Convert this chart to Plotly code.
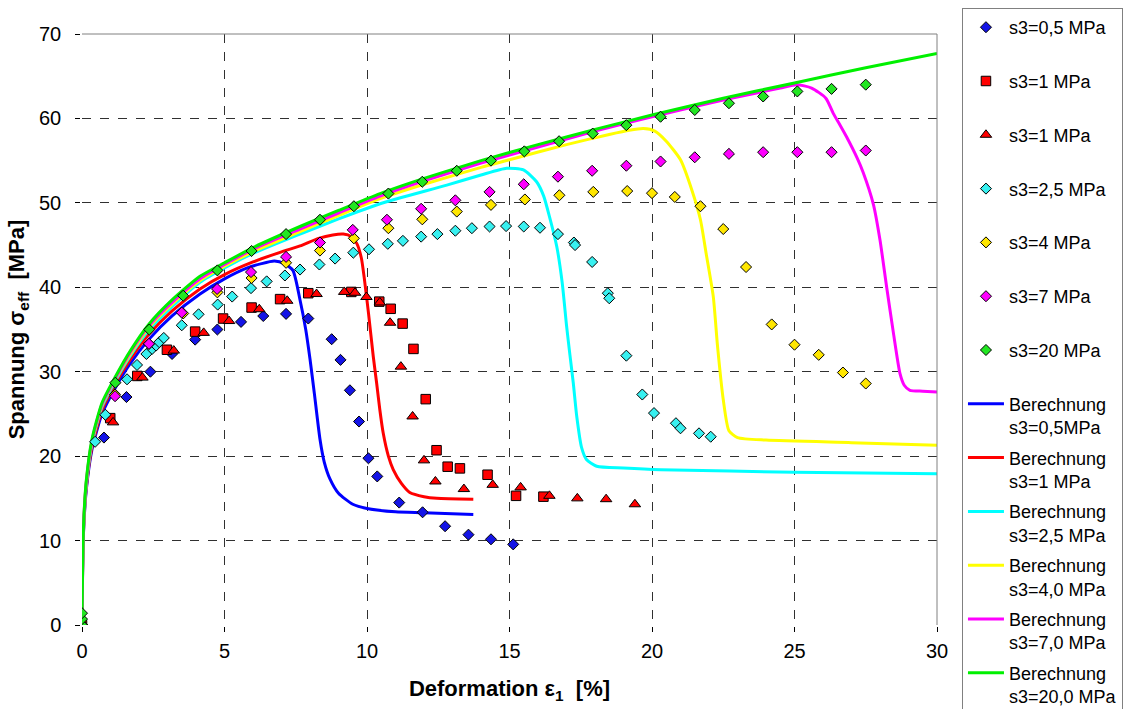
import plotly.graph_objects as go

# ---------------- measured data (markers) ----------------
x_b = [0, 0.77, 1.56, 2.4, 3.16, 3.97, 4.75, 5.58, 6.36, 7.16, 7.94, 8.76, 9.07, 9.4, 9.72,
       10.05, 10.36, 11.13, 11.95, 12.74, 13.56, 14.35, 15.13]
y_b = [0, 22.2, 27.0, 30.0, 32.1, 33.8, 35.0, 35.9, 36.6, 36.85, 36.3, 33.85, 31.4, 27.8, 24.1,
       19.75, 17.6, 14.5, 13.35, 11.7, 10.7, 10.15, 9.55]

x_rs = [0, 0.99, 1.94, 2.98, 3.97, 4.95, 5.95, 6.95, 7.94, 9.45, 10.43, 10.83, 11.25, 11.63,
        12.06, 12.44, 12.83, 13.26, 14.23, 15.23, 16.19]
y_rs = [0, 24.5, 29.5, 32.6, 34.75, 36.3, 37.6, 38.6, 39.3, 39.45, 38.3, 37.45, 35.7, 32.7,
        26.75, 20.7, 18.75, 18.55, 17.8, 15.3, 15.2]

x_rt = [0, 1.09, 2.12, 3.22, 4.27, 5.16, 6.22, 7.2, 8.23, 9.2, 9.58, 9.98, 10.45, 10.81, 11.19,
        11.6, 12.0, 12.4, 13.4, 14.41, 15.39, 16.4, 17.38, 18.39, 19.4]
y_rt = [0, 24.0, 29.3, 32.5, 34.6, 36.0, 37.4, 38.4, 39.2, 39.45, 39.35, 38.85, 38.2, 35.8, 30.6,
        24.7, 19.5, 17.0, 16.1, 16.6, 16.3, 15.3, 15.0, 14.9, 14.3]

x_c = [0, 0.46, 0.82, 1.58, 1.93, 2.26, 2.46, 2.6, 2.71, 2.87, 3.5, 4.09, 4.76, 5.27, 5.93,
       6.48, 7.12, 7.65, 8.33, 8.88, 9.52, 10.07, 10.73, 11.26, 11.9, 12.47, 13.1, 13.68, 14.3,
       14.88, 15.5, 16.07, 16.7, 17.26, 17.3, 17.9, 18.45, 18.5, 19.1, 19.66, 20.07, 20.84, 21.0,
       21.65, 22.06]
y_c = [0, 21.7, 24.9, 29.1, 30.8, 32.1, 32.7, 33.1, 33.5, 34.0, 35.5, 36.8, 37.95, 38.9, 39.9,
       40.7, 41.4, 42.1, 42.7, 43.4, 44.1, 44.5, 45.15, 45.5, 46.0, 46.3, 46.7, 47.0, 47.2,
       47.25, 47.2, 47.05, 46.3, 45.3, 45.0, 43.0, 39.3, 38.7, 31.9, 27.3, 25.1, 23.9, 23.3,
       22.7, 22.3]

x_y = [0, 1.16, 2.35, 3.55, 4.75, 5.95, 7.16, 8.35, 9.54, 10.75, 11.94, 13.15, 14.35, 15.54,
       16.75, 17.94, 19.13, 20.0, 20.8, 21.7, 22.5, 23.3, 24.2, 25.0, 25.85, 26.7, 27.5]
y_y = [0, 27.3, 33.3, 36.9, 39.4, 41.1, 42.9, 44.35, 45.8, 47.0, 48.05, 48.97, 49.76, 50.4,
       50.9, 51.3, 51.4, 51.15, 50.7, 49.6, 46.9, 42.4, 35.6, 33.2, 32.0, 29.9, 28.6]

x_m = [0, 1.16, 2.35, 3.5, 4.74, 5.93, 7.16, 8.35, 9.5, 10.7, 11.9, 13.1, 14.3, 15.5, 16.7,
       17.9, 19.1, 20.3, 21.5, 22.7, 23.9, 25.1, 26.3, 27.5]
y_m = [0, 27.1, 33.3, 37.0, 39.8, 41.8, 43.6, 45.3, 46.8, 48.0, 49.3, 50.3, 51.3, 52.2, 53.1,
       53.8, 54.4, 54.9, 55.4, 55.8, 56.0, 56.0, 56.0, 56.2]

x_g = [0, 0, 0, 1.17, 2.36, 3.55, 4.75, 5.95, 7.16, 8.35, 9.54, 10.75, 11.94, 13.15, 14.35,
       15.52, 16.74, 17.92, 19.1, 20.3, 21.5, 22.7, 23.9, 25.1, 26.3, 27.5]
y_g = [0, 0.7, 1.4, 28.7, 35.0, 39.0, 42.0, 44.3, 46.3, 48.0, 49.6, 51.1, 52.5, 53.8, 55.0,
       56.1, 57.3, 58.2, 59.2, 60.2, 61.0, 61.8, 62.6, 63.2, 63.5, 64.0]

# ---------------- calculated curves ----------------
cx_blue = [0, 0.02, 0.06, 0.15, 0.35, 0.7, 1.17, 1.7, 2.34, 3.16, 4.14, 5.0, 5.8, 6.3, 6.75,
           7.1, 7.4, 7.65, 7.85, 8.0, 8.15, 8.35, 8.5, 8.7, 9.0, 9.5, 10.0, 11.0, 12.0, 13.73]
cy_blue = [0, 6.0, 11.5, 16.0, 20.8, 25.0, 28.1, 31.0, 33.8, 36.6, 39.2, 41.0, 42.3, 42.8, 43.1,
           42.8, 42.0, 38.5, 35.0, 31.5, 27.5, 22.0, 19.3, 17.3, 15.6, 14.3, 13.8, 13.4, 13.3, 13.1]

cx_red = [0, 0.02, 0.06, 0.15, 0.35, 0.7, 1.17, 1.7, 2.34, 3.16, 4.14, 5.0, 6.0, 7.0, 7.65,
          8.3, 8.8, 9.17, 9.45, 9.64, 9.8, 9.9, 10.05, 10.22, 10.34, 10.45, 10.57, 10.75, 10.92,
          11.2, 11.5, 12.0, 12.45, 13.73]
cy_red = [0, 6.2, 11.7, 16.3, 21.1, 25.4, 28.6, 31.5, 34.4, 37.2, 39.8, 41.5, 43.0, 44.2, 44.9,
          45.8, 46.2, 46.3, 46.0, 45.2, 43.5, 41.2, 37.0, 31.8, 28.6, 25.5, 22.7, 20.0, 18.4,
          16.8, 15.7, 15.2, 15.0, 14.9]

cx_cyan = [0, 0.02, 0.06, 0.15, 0.35, 0.7, 1.17, 1.7, 2.34, 3.16, 4.14, 5.0, 6.0, 7.65, 9.0,
           10.46, 12.8, 14.0, 14.9, 15.49, 15.95, 16.2, 16.4, 16.66, 16.85, 17.0, 17.12, 17.24,
           17.36, 17.53, 17.7, 18.06, 19.0, 20.3, 25.0, 30.0]
cy_cyan = [0, 6.3, 11.9, 16.6, 21.5, 25.8, 28.9, 31.9, 34.9, 37.7, 40.6, 42.3, 44.0, 46.3, 48.1,
           49.9, 52.1, 53.3, 54.1, 53.9, 52.5, 50.8, 48.4, 44.8, 40.5, 35.5, 32.0, 28.6, 24.7,
           21.0, 19.6, 18.8, 18.6, 18.4, 18.1, 17.9]

cx_yel = [0, 0.02, 0.06, 0.15, 0.35, 0.7, 1.17, 1.7, 2.34, 3.16, 4.14, 5.0, 6.0, 7.65, 9.0,
          10.46, 12.0, 14.0, 15.0, 17.0, 18.5, 19.2, 19.7, 20.1, 20.5, 21.0, 21.4, 21.7, 21.9,
          22.15, 22.3, 22.5, 22.7, 23.0, 24.0, 27.0, 30.0]
cy_yel = [0, 6.4, 12.0, 16.8, 21.7, 26.0, 29.1, 32.1, 35.2, 38.0, 40.8, 42.5, 44.2, 46.6, 48.5,
          50.5, 52.2, 54.2, 55.1, 56.9, 58.1, 58.6, 58.8, 58.5, 57.3, 55.1, 51.5, 48.0, 44.0,
          38.9, 33.0, 26.7, 23.0, 22.2, 21.9, 21.6, 21.3]

cx_mag = [0, 0.02, 0.06, 0.15, 0.35, 0.7, 1.17, 1.7, 2.34, 3.16, 4.14, 5.0, 6.0, 7.65, 9.0,
          10.46, 12.0, 14.0, 16.0, 18.0, 20.0, 22.0, 23.5, 24.5, 25.08, 25.6, 26.1, 26.36, 26.6,
          26.83, 27.2, 27.41, 27.77, 28.0, 28.23, 28.47, 28.7, 28.85, 29.05, 29.5, 30.0]
cy_mag = [0, 6.5, 12.1, 16.9, 21.8, 26.1, 29.2, 32.3, 35.4, 38.2, 41.0, 42.7, 44.5, 46.9, 48.8,
          50.8, 52.6, 54.7, 56.6, 58.5, 60.2, 61.8, 62.9, 63.6, 64.0, 63.6, 62.4, 60.6, 59.2,
          57.8, 55.3, 53.6, 49.8, 45.6, 40.1, 34.6, 29.8, 28.4, 27.8, 27.7, 27.6]

cx_grn = [0, 0.02, 0.06, 0.15, 0.35, 0.7, 1.17, 1.7, 2.34, 3.16, 4.14, 5.0, 6.0, 7.65, 9.0,
          10.46, 12.0, 14.0, 16.0, 18.0, 20.0, 22.5, 25.0, 27.5, 30.0]
cy_grn = [0, 6.6, 12.3, 17.1, 22.0, 26.3, 29.4, 32.5, 35.6, 38.5, 41.3, 42.9, 44.7, 47.2, 49.1,
          51.1, 52.9, 55.0, 56.9, 58.7, 60.4, 62.4, 64.2, 66.0, 67.7]

x_ticks = [0, 5, 10, 15, 20, 25, 30]
y_ticks = [0, 10, 20, 30, 40, 50, 60, 70]

NB = "\u00a0"
FONT = "Arial, Liberation Sans, sans-serif"

fig = go.Figure()

marker_series = [
    (x_b, y_b, "s3=0,5 MPa", "diamond", "#1414E6", 8.5),
    (x_rs, y_rs, "s3=1 MPa", "square", "#FF0000", 9.5),
    (x_rt, y_rt, "s3=1 MPa", "triangle-up", "#FF0000", 10),
    (x_c, y_c, "s3=2,5 MPa", "diamond", "#38F0F0", 8.5),
    (x_y, y_y, "s3=4 MPa", "diamond", "#FFE600", 8.5),
    (x_m, y_m, "s3=7 MPa", "diamond", "#FF00FF", 8.5),
    (x_g, y_g, "s3=20 MPa", "diamond", "#22E622", 8.5),
]
for i, (xs, ys, name, sym, col, sz) in enumerate(marker_series):
    fig.add_trace(go.Scatter(
        x=xs, y=ys, mode="markers", name=name + "<br>" + NB,
        marker=dict(symbol=sym, color=col, size=sz, line=dict(color="black", width=1)),
        legendgroup="m%d" % i, zorder=2))

line_series = [
    (cx_blue, cy_blue, "Berechnung<br>s3=0,5MPa", "#0000FF"),
    (cx_red, cy_red, "Berechnung<br>s3=1 MPa", "#FF0000"),
    (cx_cyan, cy_cyan, "Berechnung<br>s3=2,5 MPa", "#00FFFF"),
    (cx_yel, cy_yel, "Berechnung<br>s3=4,0 MPa", "#FFFF00"),
    (cx_mag, cy_mag, "Berechnung<br>s3=7,0 MPa", "#FF00FF"),
    (cx_grn, cy_grn, "Berechnung<br>s3=20,0 MPa", "#00F000"),
]
for i, (xs, ys, name, col) in enumerate(line_series):
    fig.add_trace(go.Scatter(
        x=xs, y=ys, mode="lines", name=name,
        line=dict(color=col, width=3, shape="spline", smoothing=0.6),
        legendgroup="l%d" % i, zorder=1))

axis_common = dict(
    showgrid=True, gridcolor="#303030", griddash="dash", gridwidth=1,
    showline=True, linecolor="black", linewidth=1.5,
    ticks="outside", ticklen=5, tickcolor="black", tickwidth=1,
    zeroline=False,
    tickfont=dict(family=FONT, size=20, color="black"),
)

fig.update_layout(
    width=1129, height=709,
    margin=dict(l=82, r=192, t=34, b=84, autoexpand=False),
    paper_bgcolor="white", plot_bgcolor="white",
    font=dict(family=FONT, color="black"),
    xaxis=dict(range=[0, 30], tickvals=x_ticks, **axis_common, ticklabelstandoff=2,
               title=dict(text="<b>Deformation ε<sub>1</sub>" + NB + NB + "[%]</b>",
                          font=dict(family=FONT, size=22, color="black"), standoff=20)),
    yaxis=dict(range=[0, 70], tickvals=y_ticks, **axis_common, ticklabelstandoff=10,
               title=dict(text="<b>Spannung σ<sub>eff</sub>" + NB + NB + "[MPa]</b>",
                          font=dict(family=FONT, size=22, color="black"), standoff=8)),
    legend=dict(x=1.0292, y=1.044, xanchor="left", yanchor="top",
                bordercolor="#808080", borderwidth=1, bgcolor="white",
                font=dict(family=FONT, size=18, color="black"),
                valign="top", traceorder="grouped", tracegroupgap=4, itemwidth=36),
    shapes=[
        dict(type="line", xref="paper", yref="paper", x0=0, x1=1, y0=1, y1=1,
             line=dict(color="#808080", width=1), layer="above"),
        dict(type="line", xref="paper", yref="paper", x0=1, x1=1, y0=0, y1=1,
             line=dict(color="#808080", width=1), layer="above"),
    ],
)

try:
    fig.update_layout(legend_maxheight=760)
except Exception:
    pass

fig.write_html("out.html")
